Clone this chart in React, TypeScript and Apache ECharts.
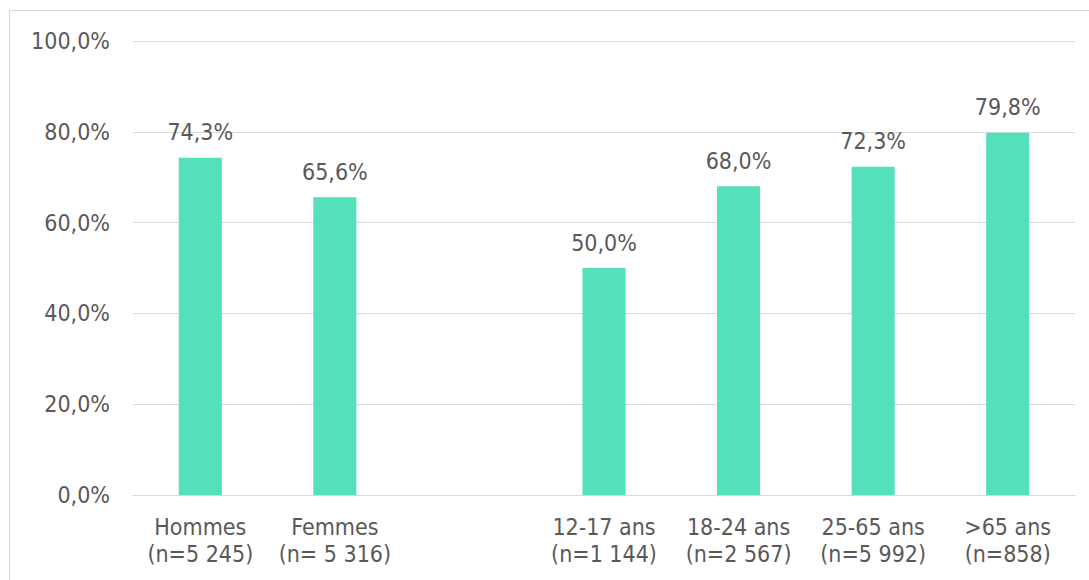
import React, { useEffect, useRef } from "react";
import * as echarts from "echarts";

// Share of respondents, by sex and by age group (the empty slot separates the two groups)
const categories: string[] = [
  "Hommes\n(n=5 245)",
  "Femmes\n(n= 5 316)",
  "",
  "12-17 ans\n(n=1 144)",
  "18-24 ans\n(n=2 567)",
  "25-65 ans\n(n=5 992)",
  ">65 ans\n(n=858)",
];
const values: (number | null)[] = [74.3, 65.6, null, 50.0, 68.0, 72.3, 79.8];
const yTicks = { min: 0, max: 100, interval: 20 };

const FONT = "'DejaVu Sans Condensed', 'DejaVu Sans', Verdana, sans-serif";
const TEXT = "#595959";
const GRID = "#d9d9d9";
const BAR = "#53E0BA";

const pct = (v: number) => v.toFixed(1).replace(".", ",") + "%";

export default function App() {
  const ref = useRef<HTMLDivElement>(null);

  useEffect(() => {
    document.body.style.margin = "0";
    const chart = echarts.init(ref.current!, undefined, { renderer: "svg" });
    chart.setOption({
      animation: false,
      backgroundColor: "#ffffff",
      textStyle: { fontFamily: FONT },
      graphic: [
        {
          type: "rect",
          shape: { x: 9.5, y: 10.5, width: 1200, height: 700 },
          style: { fill: "none", stroke: GRID, lineWidth: 1 },
          silent: true,
        },
      ],
      grid: { left: 133, right: 14, top: 41, bottom: 85 },
      xAxis: {
        type: "category",
        data: categories,
        axisTick: { show: false },
        axisLine: { show: true, lineStyle: { color: GRID, width: 1 } },
        axisLabel: {
          color: TEXT,
          fontFamily: FONT,
          fontSize: 23,
          lineHeight: 27,
          margin: 18,
          interval: 0,
        },
      },
      yAxis: {
        type: "value",
        min: yTicks.min,
        max: yTicks.max,
        interval: yTicks.interval,
        axisLine: { show: false },
        axisTick: { show: false },
        splitLine: { lineStyle: { color: GRID, width: 1 } },
        axisLabel: {
          color: TEXT,
          fontFamily: FONT,
          fontSize: 23,
          margin: 23,
          formatter: (v: number) => pct(v),
        },
      },
      series: [
        {
          type: "bar",
          data: values,
          barWidth: "32%",
          itemStyle: { color: BAR },
          label: {
            show: true,
            position: "top",
            distance: 14,
            color: TEXT,
            fontFamily: FONT,
            fontSize: 23,
            formatter: (p: any) => (p.value == null ? "" : pct(p.value)),
          },
        },
      ],
    });
    return () => chart.dispose();
  }, []);

  return <div ref={ref} style={{ width: 1089, height: 580 }} />;
}
